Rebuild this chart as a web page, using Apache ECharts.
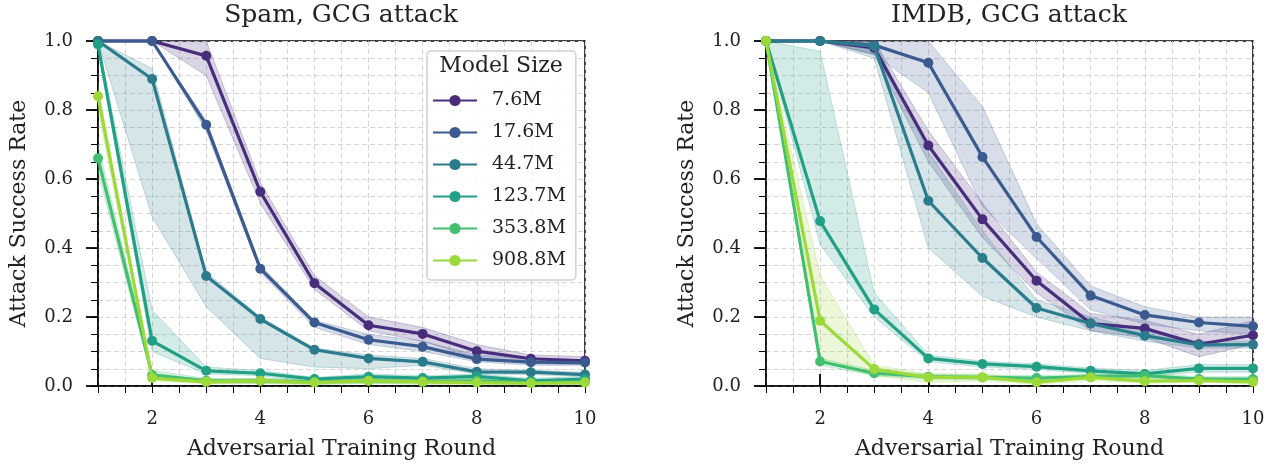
<!DOCTYPE html>
<html>
<head>
<meta charset="utf-8">
<script src="https://cdn.jsdelivr.net/npm/echarts@6/dist/echarts.min.js"></script>
<style>html,body{margin:0;padding:0;background:#fff}#c{width:1275px;height:465px}</style>
</head>
<body>
<div id="c"></div>
<script>
const rounds = [1, 2, 3, 4, 5, 6, 7, 8, 9, 10];
const sizes = ['7.6M', '17.6M', '44.7M', '123.7M', '353.8M', '908.8M'];
const colors = ['#472d7b', '#3b5a8f', '#2b7b8d', '#22a086', '#43bf71', '#9cd93b'];
const xTickLabels = [2, 4, 6, 8, 10];
const yTickLabels = [0, 0.2, 0.4, 0.6, 0.8, 1.0];
const titles = ['Spam, GCG attack', 'IMDB, GCG attack'];

// Spam, GCG attack
const spamMean = [
  [1.0, 1.0, 0.957, 0.563, 0.298, 0.176, 0.151, 0.101, 0.079, 0.073],
  [1.0, 1.0, 0.757, 0.340, 0.184, 0.134, 0.114, 0.078, 0.069, 0.068],
  [1.0, 0.890, 0.319, 0.194, 0.105, 0.080, 0.070, 0.041, 0.040, 0.033],
  [0.99, 0.131, 0.044, 0.037, 0.020, 0.027, 0.023, 0.028, 0.015, 0.020],
  [0.66, 0.032, 0.015, 0.015, 0.012, 0.015, 0.013, 0.015, 0.010, 0.012],
  [0.84, 0.023, 0.012, 0.015, 0.010, 0.015, 0.012, 0.010, 0.008, 0.010]
];
const spamLow = [
  [1, 1, 0.90, 0.53, 0.28, 0.16, 0.13, 0.08, 0.065, 0.062],
  [1, 1, 0.74, 0.33, 0.17, 0.12, 0.10, 0.07, 0.06, 0.06],
  [1, 0.49, 0.23, 0.08, 0.055, 0.05, 0.06, 0.035, 0.033, 0.028],
  [0.97, 0.10, 0.035, 0.03, 0.012, 0.02, 0.018, 0.02, 0.01, 0.015],
  [0.62, 0.02, 0.008, 0.008, 0.005, 0.008, 0.006, 0.008, 0.004, 0.005],
  [0.80, 0.015, 0.006, 0.008, 0.004, 0.008, 0.005, 0.004, 0.003, 0.004]
];
const spamHigh = [
  [1, 1, 1.0, 0.59, 0.32, 0.20, 0.17, 0.12, 0.09, 0.085],
  [1, 1, 0.77, 0.35, 0.19, 0.15, 0.13, 0.09, 0.08, 0.075],
  [1, 0.92, 0.33, 0.20, 0.11, 0.09, 0.08, 0.05, 0.046, 0.04],
  [1, 0.22, 0.055, 0.045, 0.025, 0.035, 0.03, 0.035, 0.022, 0.028],
  [0.70, 0.045, 0.022, 0.022, 0.02, 0.022, 0.02, 0.022, 0.016, 0.018],
  [0.87, 0.035, 0.02, 0.022, 0.016, 0.022, 0.02, 0.016, 0.014, 0.016]
];

// IMDB, GCG attack
const imdbMean = [
  [1.0, 1.0, 0.98, 0.697, 0.483, 0.305, 0.181, 0.167, 0.121, 0.147],
  [1.0, 1.0, 0.988, 0.937, 0.664, 0.432, 0.262, 0.206, 0.184, 0.173],
  [1.0, 1.0, 0.985, 0.537, 0.371, 0.226, 0.181, 0.146, 0.119, 0.120],
  [1.0, 0.478, 0.222, 0.080, 0.064, 0.056, 0.044, 0.035, 0.051, 0.051],
  [1.0, 0.071, 0.037, 0.027, 0.025, 0.023, 0.027, 0.030, 0.020, 0.020],
  [1.0, 0.189, 0.049, 0.025, 0.025, 0.011, 0.025, 0.014, 0.016, 0.012]
];
const imdbLow = [
  [1, 1, 0.96, 0.65, 0.43, 0.27, 0.16, 0.14, 0.085, 0.12],
  [1, 1, 0.96, 0.85, 0.52, 0.37, 0.22, 0.18, 0.16, 0.15],
  [1, 1, 0.95, 0.40, 0.26, 0.20, 0.16, 0.13, 0.11, 0.11],
  [1, 0.41, 0.20, 0.07, 0.055, 0.048, 0.036, 0.028, 0.04, 0.04],
  [1, 0.06, 0.03, 0.02, 0.018, 0.016, 0.02, 0.022, 0.013, 0.013],
  [1, 0.075, 0.03, 0.01, 0.015, 0.005, 0.015, 0.008, 0.01, 0.006]
];
const imdbHigh = [
  [1, 1, 1, 0.74, 0.53, 0.33, 0.21, 0.19, 0.15, 0.19],
  [1, 1, 1, 1, 0.81, 0.47, 0.29, 0.23, 0.20, 0.20],
  [1, 1, 1, 0.68, 0.45, 0.25, 0.20, 0.16, 0.13, 0.13],
  [1, 0.97, 0.27, 0.09, 0.072, 0.064, 0.052, 0.045, 0.062, 0.062],
  [1, 0.08, 0.045, 0.035, 0.032, 0.03, 0.034, 0.038, 0.027, 0.027],
  [1, 0.32, 0.06, 0.035, 0.035, 0.02, 0.035, 0.022, 0.024, 0.02]
];

const FONT = '"DejaVu Serif", "Liberation Serif", serif';
function rgba(hex, a) {
  const n = parseInt(hex.slice(1), 16);
  return 'rgba(' + ((n >> 16) & 255) + ',' + ((n >> 8) & 255) + ',' + (n & 255) + ',' + a + ')';
}

const gridLefts = [98, 766];
const grids = [], xAxes = [], yAxes = [], series = [];
const panels = [[spamMean, spamLow, spamHigh], [imdbMean, imdbLow, imdbHigh]];

panels.forEach(function (p, g) {
  grids.push({ left: gridLefts[g], top: 41, width: 487, height: 346, show: true, borderColor: '#000', borderWidth: 1.5, backgroundColor: 'transparent' });
  xAxes.push({
    type: 'value', gridIndex: g, min: 1, max: 10, interval: 0.5,
    name: 'Adversarial Training Round', nameLocation: 'middle', nameGap: 52,
    nameTextStyle: { fontFamily: FONT, fontSize: 22, color: '#222' },
    axisLine: { show: true, lineStyle: { color: '#000', width: 1.5 } },
    axisTick: { show: true, length: 7, lineStyle: { color: '#000', width: 1 } },
    axisLabel: { customValues: xTickLabels, fontFamily: FONT, fontSize: 18, color: '#222', margin: 24 },
    splitLine: { show: true, lineStyle: { color: '#d4d4d4', type: [5, 3], width: 1 } }
  });
  xAxes.push({
    type: 'value', gridIndex: g, min: 1, max: 10,
    axisLine: { show: false },
    axisTick: { show: true, customValues: xTickLabels, length: 12, lineStyle: { color: '#000', width: 1.8 } },
    axisLabel: { show: false }, splitLine: { show: false }
  });
  yAxes.push({
    type: 'value', gridIndex: g, min: 0, max: 1, interval: 0.05,
    name: 'Attack Success Rate', nameLocation: 'middle', nameGap: 68,
    nameTextStyle: { fontFamily: FONT, fontSize: 22, color: '#222' },
    axisLine: { show: true, lineStyle: { color: '#000', width: 1.5 } },
    axisTick: { show: true, length: 7, lineStyle: { color: '#000', width: 1 } },
    axisLabel: { customValues: yTickLabels, formatter: function (v) { return v.toFixed(1); }, fontFamily: FONT, fontSize: 18, color: '#222', margin: 25 },
    splitLine: { show: true, lineStyle: { color: '#d4d4d4', type: [5, 3], width: 1 } }
  });
  yAxes.push({
    type: 'value', gridIndex: g, min: 0, max: 1, position: 'left',
    axisLine: { show: false },
    axisTick: { show: true, customValues: yTickLabels, length: 12, lineStyle: { color: '#000', width: 1.8 } },
    axisLabel: { show: false }, splitLine: { show: false }
  });

  const mean = p[0], low = p[1], high = p[2];
  sizes.forEach(function (s, k) {
    series.push({
      type: 'custom', name: 'band' + g + k, xAxisIndex: g * 2, yAxisIndex: g * 2, z: 1, silent: true,
      clip: true,
      data: rounds.map(function (r, i) { return [r, mean[k][i]]; }),
      encode: { x: 0, y: 1 },
      renderItem: function (params, api) {
        if (params.dataIndex !== 0) return null;
        const pts = [];
        for (let i = 0; i < rounds.length; i++) pts.push(api.coord([rounds[i], high[k][i]]));
        for (let i = rounds.length - 1; i >= 0; i--) pts.push(api.coord([rounds[i], low[k][i]]));
        return { type: 'polygon', shape: { points: pts }, style: { fill: rgba(colors[k], 0.2), stroke: rgba(colors[k], 0.25), lineWidth: 1 } };
      }
    });
  });
  sizes.forEach(function (s, k) {
    series.push({
      type: 'line', name: s, xAxisIndex: g * 2, yAxisIndex: g * 2, z: 3 + k,
      data: rounds.map(function (r, i) { return [r, mean[k][i]]; }),
      symbol: 'circle', symbolSize: 10, showSymbol: true, clip: false,
      lineStyle: { color: colors[k], width: 3.2 },
      itemStyle: { color: colors[k] },
      emphasis: { disabled: true }
    });
  });
});

const chart = echarts.init(document.getElementById('c'), null, { renderer: 'canvas' });
chart.setOption({
  animation: false,
  backgroundColor: '#fff',
  title: titles.map(function (t, g) {
    return { text: t, left: gridLefts[g] + 243, top: 3, padding: 0, textAlign: 'center', textStyle: { fontFamily: FONT, fontSize: 25, fontWeight: 'normal', color: '#222' } };
  }),
  grid: grids,
  xAxis: xAxes,
  yAxis: yAxes,
  legend: {
    data: sizes, orient: 'vertical', left: 427, top: 51,
    padding: [40, 10, 10, 5], itemWidth: 44, itemHeight: 14, itemGap: 13,
    backgroundColor: 'rgba(255,255,255,0.85)', borderColor: '#d0d0d0', borderWidth: 1.5, borderRadius: 4,
    textStyle: { fontFamily: FONT, fontSize: 19, lineHeight: 16, color: '#222', padding: [0, 0, 0, 10] },
    selectedMode: false
  },
  graphic: [{
    type: 'text', x: 501, y: 55, z: 100,
    style: { text: 'Model Size', fontFamily: FONT, fontSize: 22, fill: '#222', textAlign: 'center', textVerticalAlign: 'top' }
  }],
  series: series
});
</script>
</body>
</html>
